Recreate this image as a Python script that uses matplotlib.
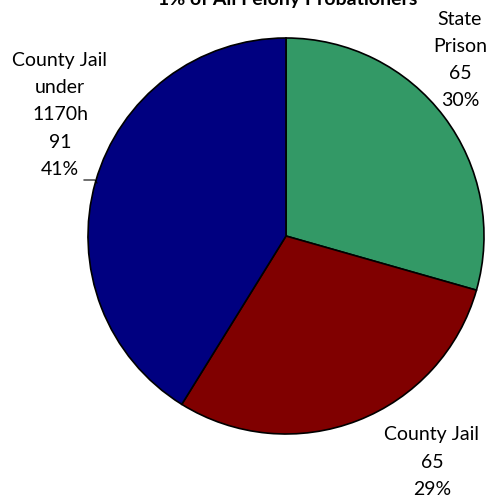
import matplotlib
matplotlib.use('Agg')
import matplotlib.pyplot as plt

labels = ['State Prison', 'County Jail', 'County Jail under 1170h']
values = [65, 65, 91]
label_texts = ['State\nPrison\n65\n30%', 'County Jail\n65\n29%', 'County Jail\nunder\n1170h\n91\n41%']
colors = ['#339966', '#800000', '#000080']

fig = plt.figure(figsize=(4.99, 5.0), dpi=100)
ax = fig.add_axes([0, 0, 1, 1])

ax.pie(values, colors=colors, startangle=90, counterclock=False,
       center=(286, 264), radius=198, frame=True,
       wedgeprops=dict(edgecolor='black', linewidth=1.2))
ax.set_xlim(0, 499)
ax.set_ylim(0, 500)
ax.set_aspect('equal')
ax.axis('off')

font = 'Lato'
fs = 14
ls = 1.72
ax.text(460, 440, label_texts[0], ha='center', va='center', fontsize=fs,
        family=font, linespacing=ls)
ax.text(432, 38, label_texts[1], ha='center', va='center', fontsize=fs,
        family=font, linespacing=ls)
ax.text(60, 385, label_texts[2], ha='center', va='center', fontsize=fs,
        family=font, linespacing=ls)
# leader line for the 41% label
ax.plot([84, 95, 97], [320, 320, 317], color='black', linewidth=0.8)

ax.text(288, 501, '1% of All Felony Probationers', ha='center', va='center',
        fontsize=14, fontweight='bold', family=font)

fig.savefig('out.png', dpi=100, facecolor='white')
